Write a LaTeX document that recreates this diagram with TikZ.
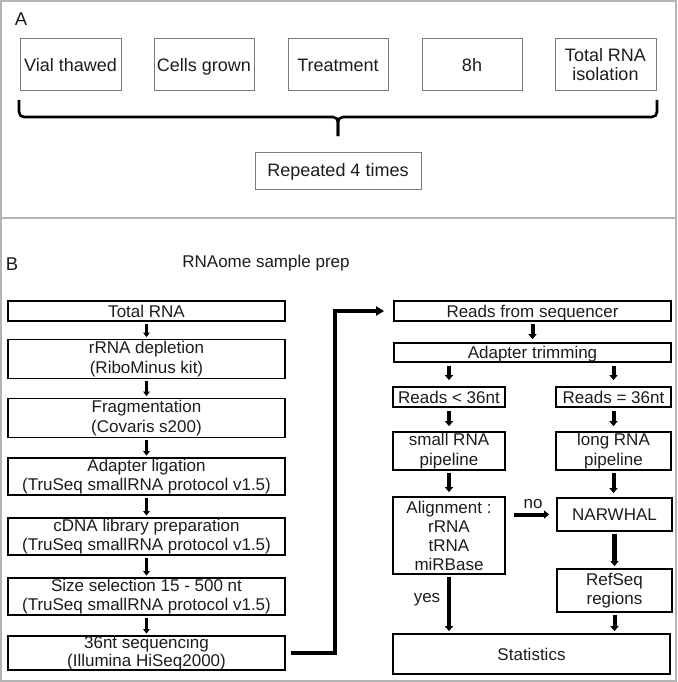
\documentclass[tikz,border=0pt]{standalone}
\usepackage{fontspec}
\setmainfont{Liberation Sans}
\usetikzlibrary{arrows.meta,calc}
\definecolor{framegray}{HTML}{B4B4B4}
\definecolor{boxgray}{HTML}{7A7A7A}
\definecolor{txtgray}{HTML}{1C1C1C}
\begin{document}
\begin{tikzpicture}[x=1pt,y=-1pt,
  boxa/.style={draw=boxgray, line width=1pt, inner sep=0pt, align=center, text=txtgray, font=\fontsize{18}{19}\selectfont},
  boxb/.style={draw=black, line width=1.8pt, inner sep=0pt, align=center, text=txtgray, font=\fontsize{17}{19.5}\selectfont},
  onea/.style={text height=16pt, text depth=3.1pt},
  one/.style={text height=15pt, text depth=2.8pt},
  sz/.style 2 args={minimum width=#1pt, minimum height=#2pt},
  lbl/.style={inner sep=0pt, text=txtgray, font=\fontsize{17}{19}\selectfont},
  arrs/.style={line width=3pt, -{Triangle[width=6.5pt,length=4.5pt]}},
  arrb/.style={line width=4pt, -{Triangle[width=8pt,length=5pt]}},
  conn/.style={line width=3.5pt, -{Triangle[width=9pt,length=8pt]}},
  brace/.style={line width=2.6pt, rounded corners=5pt}
]
\useasboundingbox (0,0) rectangle (677,682);
\draw[framegray, line width=2pt] (1,1) rectangle (676,681);
\draw[framegray, line width=1.5pt] (1,218) -- (676,218);

% ---- Section A ----
\node[lbl, font=\fontsize{18.5}{20}\selectfont] (labA) at (21,19) {A};
\node[boxa, onea, sz={101}{52}] (vial) at (70.5,65) {Vial thawed};
\node[boxa, onea, sz={100}{52}] (cells) at (204,65) {Cells grown};
\node[boxa, onea, sz={100}{52}] (treat) at (338,65) {Treatment};
\node[boxa, onea, sz={100}{52}] (eight) at (472,65) {8h};
\node[boxa, sz={101}{52}] (isol) at (605.5,65) {Total RNA\\isolation};
\node[boxa, onea, sz={166}{37}] (rep) at (338,170.5) {Repeated 4 times};
\coordinate (bl) at (19,100);
\coordinate (br) at (657,100);
\coordinate (bm) at (338,117);
\coordinate (bt) at (338,136);
\draw[brace] (bl) -- (bl |- bm) -- (bm) -- (bt);
\draw[brace] (br) -- (br |- bm) -- (bm) -- (bt);

% ---- Section B ----
\node[lbl, font=\fontsize{18.5}{20}\selectfont] (labB) at (12,264) {B};
\node[lbl] (title) at (266,263) {RNAome sample prep};

\node[boxb, one, sz={277}{20}] (total) at (146.5,311) {Total RNA};
\node[boxb, sz={277}{39}] (rrna) at (146.5,359) {rRNA depletion\\(RiboMinus kit)};
\node[boxb, sz={277}{39}] (frag) at (146.5,418) {Fragmentation\\(Covaris s200)};
\node[boxb, sz={277}{37}] (adlig) at (146.5,476.5) {Adapter ligation\\(TruSeq smallRNA protocol v1.5)};
\node[boxb, sz={277}{37}] (cdna) at (146.5,536.5) {cDNA library preparation\\(TruSeq smallRNA protocol v1.5)};
\node[boxb, sz={277}{37}] (size) at (146.5,596.5) {Size selection 15 - 500 nt\\(TruSeq smallRNA protocol v1.5)};
\node[boxb, sz={277}{34}, font=\fontsize{17}{18}\selectfont] (seq) at (146.5,653) {36nt sequencing\\(Illumina HiSeq2000)};

\foreach \a/\b in {total/rrna, rrna/frag, frag/adlig, adlig/cdna, cdna/size, size/seq}
  \draw[arrs] ($(\a.south)+(0,2)$) -- ($(\b.north)+(0,-1.5)$);

\node[boxb, one, sz={277}{20}] (reads) at (532.5,311) {Reads from sequencer};
\node[boxb, one, sz={277}{19}] (trim) at (532.5,352.5) {Adapter trimming};
\node[boxb, one, sz={112}{20}] (lt) at (449,397) {Reads < 36nt};
\node[boxb, one, sz={115}{20}] (eq) at (613.5,397) {Reads = 36nt};
\node[boxb, sz={112}{38}] (small) at (449,451) {small RNA\\pipeline};
\node[boxb, sz={115}{38}] (long) at (613.5,451) {long RNA\\pipeline};
\node[boxb, sz={112}{77}, font=\fontsize{17}{19}\selectfont] (align) at (449,535.5) {Alignment :\\rRNA\\tRNA\\miRBase};
\node[boxb, one, sz={115}{33}] (narw) at (614.5,514.5) {NARWHAL};
\node[boxb, sz={115}{43}] (refseq) at (614.5,590.5) {RefSeq\\regions};
\node[boxb, one, sz={277}{40}] (stats) at (531.5,654) {Statistics};

\draw[conn] ($(seq.east)+(5,0)$) -| ($(reads.west)+(-58,0)$) -- ($(reads.west)+(-9,0)$);

\draw[arrb] ($(reads.south)+(0,2)$) -- ($(trim.north)+(0,-3)$);
\draw[arrb] ($(lt.north |- trim.south)+(0,3)$) -- ($(lt.north)+(0,-6)$);
\draw[arrb] ($(eq.north |- trim.south)+(0,3)$) -- ($(eq.north)+(0,-6)$);
\draw[arrb] ($(lt.south)+(0,3)$) -- ($(small.north)+(0,-5)$);
\draw[arrb] ($(eq.south)+(0,3)$) -- ($(long.north)+(0,-5)$);
\draw[arrb] ($(small.south)+(0,2)$) -- ($(align.north)+(0,-4)$);
\draw[arrb] ($(long.south)+(0,2)$) -- ($(long.south |- narw.north)+(0,-4)$);
\draw[arrb] ($(align.east |- narw.west)+(8,0)$) -- ($(narw.west)+(-7,0)$);
\draw[arrb, line width=4.5pt] ($(align.south)+(0,2)$) -- ($(align.south |- stats.north)+(0,-2)$);
\draw[arrb, line width=4.5pt] ($(narw.south)+(0,2)$) -- ($(refseq.north)+(0,-2)$);
\draw[arrb] ($(refseq.south)+(0,2)$) -- ($(refseq.south |- stats.north)+(0,-2)$);
\node[lbl] (nolbl) at (533,504) {no};
\node[lbl] (yeslbl) at (427,600) {yes};
\end{tikzpicture}
\end{document}
